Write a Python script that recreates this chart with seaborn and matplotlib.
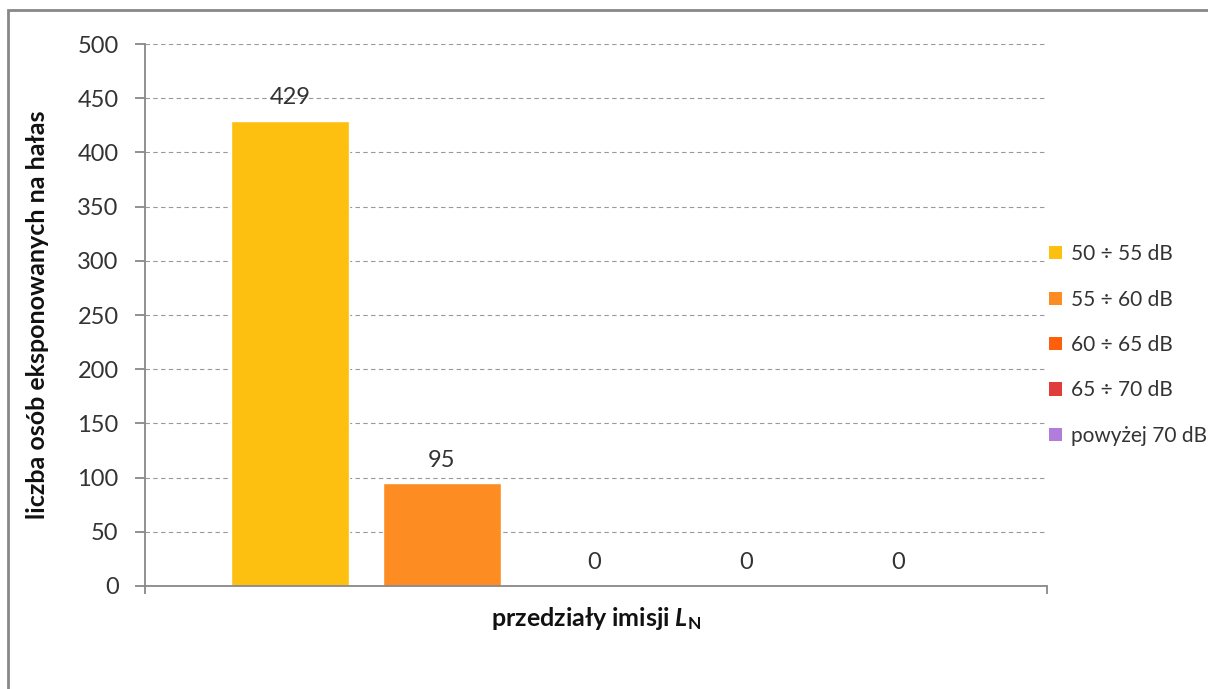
import matplotlib
matplotlib.use("Agg")
import matplotlib.pyplot as plt
import seaborn as sns
import pandas as pd
from matplotlib.patches import Patch, Rectangle

# data
categories = ["50 ÷ 55 dB", "55 ÷ 60 dB", "60 ÷ 65 dB", "65 ÷ 70 dB", "powyżej 70 dB"]
values = [429, 95, 0, 0, 0]
colors = ["#FDC010", "#FD8C22", "#FF5F0A", "#E03C3C", "#B07DDB"]

df = pd.DataFrame({"przedzial": categories, "liczba": values})

sns.set_style("white")
plt.rcParams["font.family"] = ["Lato", "DejaVu Sans"]
plt.rcParams["mathtext.fontset"] = "custom"
plt.rcParams["mathtext.it"] = "Lato:italic:bold"
plt.rcParams["mathtext.rm"] = "Lato:bold"

fig = plt.figure(figsize=(12.08, 6.89), dpi=100)
ax = fig.add_axes([0.12, 0.1495, 0.7467, 0.7866])

sns.barplot(
    data=df,
    x="przedzial",
    y="liczba",
    hue="przedzial",
    palette=colors,
    width=0.776,
    saturation=1,
    legend=False,
    ax=ax,
)

# value labels
for cont in ax.containers:
    ax.bar_label(cont, padding=9, fontsize=17, color="#333333")

ax.set_ylim(0, 500)
ax.set_yticks(range(0, 501, 50))
ax.set_xlim(-0.954, 4.98)
ax.set_xticks([-0.954, 4.98])
ax.set_xticklabels(["", ""])

ax.yaxis.grid(True, linestyle=(0, (4, 3)), color="#999999", linewidth=0.8)
ax.set_axisbelow(True)
for s in ["top", "right"]:
    ax.spines[s].set_visible(False)
for s in ["left", "bottom"]:
    ax.spines[s].set_color("#888888")
    ax.spines[s].set_linewidth(1.3)

ax.tick_params(axis="y", direction="out", length=7, width=1.3, color="#888888",
               pad=12, labelsize=17, labelcolor="#333333", left=True)
ax.tick_params(axis="x", direction="out", length=6, width=1.3, color="#888888", bottom=True)

ax.set_ylabel("liczba osób eksponowanych na hałas", fontsize=18, fontweight="bold",
              labelpad=20, color="#111111")
ax.set_xlabel(r"przedziały imisji $L_{\mathrm{N}}$", fontsize=18, fontweight="bold",
              labelpad=4, color="#111111")

# legend
handles = [Patch(facecolor=c, edgecolor="none") for c in colors]
fig.legend(handles, categories, loc="center left", bbox_to_anchor=(1049 / 1208, 1 - 345 / 689),
           frameon=False, fontsize=15, labelspacing=1.22, handlelength=0.6,
           handleheight=0.6, handletextpad=0.45, borderpad=0, borderaxespad=0,
           labelcolor="#333333")

# outer chart frame
fig.patches.append(Rectangle((8 / 1208, -0.1), 1.2, 1 - 10 / 689 + 0.1,
                             transform=fig.transFigure, fill=False,
                             edgecolor="#888888", linewidth=2))

fig.savefig("out.png", dpi=100)
